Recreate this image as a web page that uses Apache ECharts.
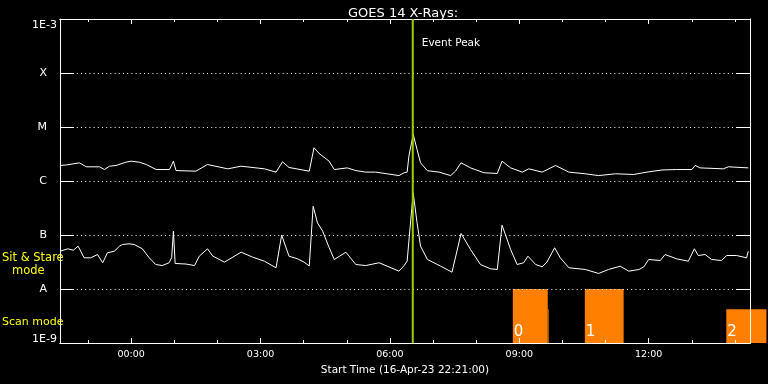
<!DOCTYPE html>
<html><head><meta charset="utf-8">
<script src="https://cdn.jsdelivr.net/npm/echarts@6/dist/echarts.min.js"></script>
<style>html,body{margin:0;padding:0;background:#000;}#c{width:768px;height:384px;}</style>
</head><body><div id="c"></div>
<script>
// ---- data ----
const yLevels = [1e-9, 1e-8, 1e-7, 1e-6, 1e-5, 1e-4, 1e-3];
const yTickLabels = ['1E-9', 'A', 'B', 'C', 'M', 'X', '1E-3'];
const xLabelHours = [0, 3, 6, 9, 12];
const xLabelText = ['00:00', '03:00', '06:00', '09:00', '12:00'];
const xHourTicks = [-1, 0, 1, 2, 3, 4, 5, 6, 7, 8, 9, 10, 11, 12, 13, 14];
const xRange = [-1.65, 14.35]; // hours from 00:00 17-Apr (start 22:21 16-Apr)
const titleText = 'GOES 14 X-Rays:';
const xName = 'Start Time (16-Apr-23 22:21:00)';
const eventPeak = 6.53;
const eventLabel = 'Event Peak';

// long channel (1-8 A) [hour, W/m^2]
const longChannel = [[-1.65,1.94e-6],[-1.50,1.98e-6],[-1.20,2.17e-6],[-1.04,1.83e-6],[-0.73,1.83e-6],[-0.62,1.63e-6],[-0.50,1.88e-6],[-0.35,1.94e-6],[-0.12,2.23e-6],[0,2.33e-6],[0.19,2.23e-6],[0.35,2.02e-6],[0.58,1.63e-6],[0.89,1.63e-6],[0.98,2.33e-6],[1.04,1.56e-6],[1.50,1.52e-6],[1.77,2.02e-6],[2.24,1.68e-6],[2.55,1.88e-6],[3.09,1.68e-6],[3.36,1.46e-6],[3.51,2.27e-6],[3.66,1.78e-6],[4.13,1.52e-6],[4.17,1.52e-6],[4.24,4.12e-6],[4.36,3.23e-6],[4.59,2.33e-6],[4.71,1.63e-6],[5.01,1.75e-6],[5.21,1.56e-6],[5.44,1.46e-6],[5.67,1.46e-6],[6.21,1.26e-6],[6.33,1.42e-6],[6.40,1.46e-6],[6.44,2.88e-6],[6.54,7.26e-6],[6.63,3.83e-6],[6.71,2.17e-6],[6.87,1.55e-6],[7.14,1.46e-6],[7.41,1.26e-6],[7.52,1.52e-6],[7.65,2.17e-6],[7.87,1.75e-6],[8.18,1.42e-6],[8.49,1.38e-6],[8.60,2.33e-6],[8.80,1.75e-6],[9.07,1.46e-6],[9.22,1.68e-6],[9.53,1.46e-6],[9.84,1.94e-6],[10.15,1.46e-6],[10.53,1.36e-6],[10.84,1.26e-6],[11.23,1.36e-6],[11.65,1.32e-6],[11.96,1.46e-6],[12.31,1.60e-6],[12.65,1.63e-6],[13.00,1.63e-6],[13.08,1.94e-6],[13.19,1.75e-6],[13.73,1.68e-6],[13.85,1.83e-6],[14.31,1.75e-6]];

// short channel (0.5-4 A) [hour, W/m^2]
const shortChannel = [[-1.65,5.01e-8],[-1.47,5.55e-8],[-1.34,5.23e-8],[-1.23,6.21e-8],[-1.09,3.78e-8],[-0.94,3.78e-8],[-0.78,4.35e-8],[-0.66,3.06e-8],[-0.55,4.68e-8],[-0.39,5.01e-8],[-0.27,6.21e-8],[-0.20,6.67e-8],[-0.05,6.87e-8],[0.07,6.67e-8],[0.26,5.55e-8],[0.42,3.78e-8],[0.57,2.84e-8],[0.72,2.72e-8],[0.88,3.06e-8],[0.94,3.83e-8],[0.98,1.18e-7],[1.02,2.97e-8],[1.27,2.90e-8],[1.47,2.72e-8],[1.58,4.05e-8],[1.77,5.55e-8],[1.89,4.09e-8],[2.16,3.14e-8],[2.55,4.80e-8],[2.81,3.91e-8],[3.09,3.27e-8],[3.36,2.47e-8],[3.49,1.0e-7],[3.66,4.05e-8],[3.86,3.62e-8],[4.01,3.14e-8],[4.13,2.67e-8],[4.22,3.41e-7],[4.32,1.68e-7],[4.44,1.18e-7],[4.59,5.87e-8],[4.71,3.52e-8],[4.98,4.80e-8],[5.21,2.84e-8],[5.44,2.72e-8],[5.75,3.06e-8],[6.21,2.14e-8],[6.33,2.72e-8],[6.40,3.3e-8],[6.45,9.5e-8],[6.54,6.04e-7],[6.63,1.68e-7],[6.71,6.21e-8],[6.87,3.52e-8],[7.18,2.64e-8],[7.44,2.05e-8],[7.65,1.07e-7],[7.87,5.38e-8],[8.10,2.84e-8],[8.33,2.37e-8],[8.49,2.30e-8],[8.60,1.52e-7],[8.80,5.38e-8],[8.95,2.84e-8],[9.10,3.06e-8],[9.20,4.05e-8],[9.38,2.84e-8],[9.53,2.58e-8],[9.64,3.14e-8],[9.82,5.80e-8],[9.95,3.78e-8],[10.15,2.47e-8],[10.53,2.30e-8],[10.84,1.94e-8],[11.07,2.30e-8],[11.34,2.64e-8],[11.54,2.14e-8],[11.78,2.30e-8],[11.89,2.58e-8],[12.00,3.52e-8],[12.27,3.37e-8],[12.38,4.35e-8],[12.65,3.62e-8],[12.92,3.27e-8],[13.06,5.55e-8],[13.15,4.17e-8],[13.31,4.35e-8],[13.46,3.52e-8],[13.69,3.37e-8],[13.81,4.17e-8],[14.04,4.17e-8],[14.27,3.78e-8],[14.31,5.01e-8]];

// scan-mode blocks
const scanStart = [8.85, 9.66, 10.52, 13.80];
const scanEnd   = [9.66, 9.68, 11.42, 14.73];
const scanTop   = [1e-8, 4.2e-9, 1e-8, 4.2e-9];
const scanLabel = ['0', '', '1', '2'];

// ---- chart ----
const FONT = 'DejaVu Sans';
const WHITE = '#ffffff';
const chart = echarts.init(document.getElementById('c'), null, {renderer: 'canvas'});

function yFmt(v) {
  const lv = Math.log10(v);
  const i = yLevels.findIndex(l => Math.abs(Math.log10(l) - lv) < 0.01);
  if (i < 0) return '';
  if (i === 0) return '{b|' + yTickLabels[i] + '}';
  if (i === yLevels.length - 1) return '{t|' + yTickLabels[i] + '}';
  return '{l|' + yTickLabels[i] + '}';
}
const richY = {
  t: {color: WHITE, fontFamily: FONT, fontSize: 11, padding: [13, 0, 0, 0]},
  b: {color: WHITE, fontFamily: FONT, fontSize: 11, padding: [0, 0, 7, 0]},
  l: {color: WHITE, fontFamily: FONT, fontSize: 11, padding: [0, 10, 0, 0]}
};

function xAxisDef(pos, ticks, len, withLabels) {
  const a = {
    type: 'value', position: pos, min: xRange[0], max: xRange[1], z: 5,
    axisLine: {show: true, onZero: false, lineStyle: {color: WHITE, width: 1}},
    axisTick: {show: true, inside: true, length: len, customValues: ticks, lineStyle: {color: WHITE, width: 1}},
    axisLabel: {show: false},
    splitLine: {show: false}
  };
  if (withLabels) {
    a.axisLabel = {
      show: true, customValues: xLabelHours, color: WHITE, fontFamily: FONT, fontSize: 9.5, margin: 7,
      formatter: v => xLabelText[xLabelHours.indexOf(v)] || ''
    };
    a.name = xName;
    a.nameLocation = 'middle';
    a.nameGap = 19;
    a.nameTextStyle = {color: WHITE, fontFamily: FONT, fontSize: 10.5};
  }
  return a;
}

function yAxisDef(pos, withLabels) {
  return {
    type: 'log', logBase: 10, position: pos, min: yLevels[0], max: yLevels[yLevels.length - 1], interval: 1, z: 5,
    axisLine: {show: true, onZero: false, lineStyle: {color: WHITE, width: 1}},
    axisTick: {show: true, inside: true, length: 14, lineStyle: {color: WHITE, width: 1}},
    axisLabel: withLabels ? {show: true, margin: 3, formatter: yFmt, rich: richY, color: WHITE, fontFamily: FONT, fontSize: 11} : {show: false},
    splitLine: withLabels ? {show: true, lineStyle: {color: WHITE, width: 1, type: [1, 3.2]}} : {show: false},
    minorTick: {show: false}
  };
}

const option = {
  backgroundColor: '#000000',
  animation: false,
  title: {
    text: titleText, left: 343, top: 2,
    textStyle: {color: WHITE, fontFamily: FONT, fontSize: 13, fontWeight: 'normal'}
  },
  grid: {left: 60, top: 19, width: 690, height: 324, show: false},
  xAxis: [
    xAxisDef('bottom', xLabelHours, 5, true),
    xAxisDef('bottom', xHourTicks, 3, false),
    xAxisDef('top', xLabelHours, 5, false),
    xAxisDef('top', xHourTicks, 3, false)
  ],
  yAxis: [yAxisDef('left', true), yAxisDef('right', false)],
  series: [
    {
      type: 'custom', name: 'Scan mode', xAxisIndex: 0, yAxisIndex: 0, z: 1, clip: false,
      data: scanStart.map((s, i) => [s, scanEnd[i], scanTop[i]]),
      encode: {x: [0, 1], y: 2},
      renderItem: (params, api) => {
        const i = params.dataIndex;
        const p0 = api.coord([api.value(0), api.value(2)]);
        const p1 = api.coord([api.value(1), yLevels[0]]);
        const children = [{
          type: 'rect', shape: {x: p0[0], y: p0[1], width: p1[0] - p0[0], height: p1[1] - p0[1]},
          style: {fill: '#ff8000'}
        }];
        if (scanLabel[i]) {
          children.push({
            type: 'text', x: p0[0] + 1, y: p1[1] - 3, z2: 10,
            style: {text: scanLabel[i], fill: WHITE, font: '15px ' + FONT, align: 'left', verticalAlign: 'bottom'}
          });
        }
        return {type: 'group', children};
      }
    },
    {
      type: 'line', name: 'long', data: longChannel, xAxisIndex: 0, yAxisIndex: 0, z: 3,
      showSymbol: false, symbol: 'none', lineStyle: {color: WHITE, width: 1}, itemStyle: {color: WHITE}
    },
    {
      type: 'line', name: 'short', data: shortChannel, xAxisIndex: 0, yAxisIndex: 0, z: 3,
      showSymbol: false, symbol: 'none', lineStyle: {color: WHITE, width: 1}, itemStyle: {color: WHITE}
    },
    {
      type: 'custom', name: 'event', xAxisIndex: 0, yAxisIndex: 0, z: 6, clip: false,
      data: [[eventPeak]],
      encode: {x: 0},
      renderItem: (params, api) => {
        const v = api.value(0);
        const top = api.coord([v, yLevels[yLevels.length - 1]]);
        const bot = api.coord([v, yLevels[0]]);
        return {type: 'group', children: [
          {type: 'line', shape: {x1: top[0], y1: top[1], x2: bot[0], y2: bot[1]}, style: {stroke: '#9ccd00', lineWidth: 2}},
          {type: 'text', x: top[0] + 9, y: top[1] + 24,
           style: {text: eventLabel, fill: WHITE, font: '10.5px ' + FONT, align: 'left', verticalAlign: 'middle'}}
        ]};
      }
    }
  ],
  graphic: [
    {type: 'text', left: 2, top: 252, style: {text: 'Sit & Stare', fill: '#ffff00', font: '11.5px ' + FONT}},
    {type: 'text', left: 12, top: 265, style: {text: 'mode', fill: '#ffff00', font: '11.5px ' + FONT}},
    {type: 'text', left: 2, top: 317, style: {text: 'Scan mode', fill: '#ffff00', font: '11px ' + FONT}}
  ]
};
chart.setOption(option);
</script>
</body></html>
